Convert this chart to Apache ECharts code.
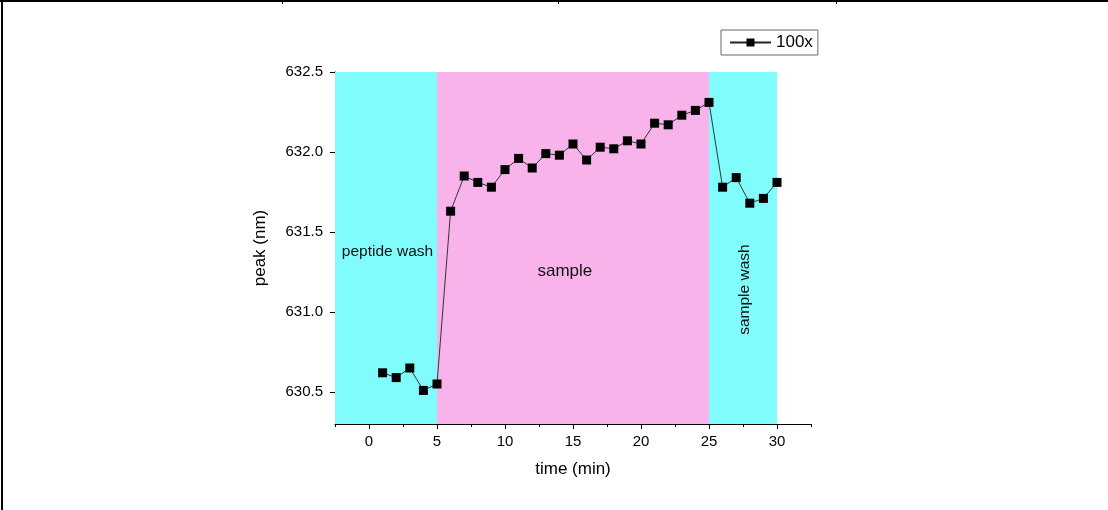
<!DOCTYPE html>
<html>
<head>
<meta charset="utf-8">
<script src="https://cdn.jsdelivr.net/npm/echarts@6/dist/echarts.min.js"></script>
<style>
html,body{margin:0;padding:0;background:#fff;}
#chart{width:1108px;height:510px;}
</style>
</head>
<body>
<div id="chart"></div>
<script>
// ---- data ----
const time = [1,2,3,4,5,6,7,8,9,10,11,12,13,14,15,16,17,18,19,20,21,22,23,24,25,26,27,28,29,30];
const peak = [630.62,630.59,630.65,630.51,630.55,631.63,631.85,631.81,631.78,631.89,631.96,631.90,631.99,631.98,632.05,631.95,632.03,632.02,632.07,632.05,632.18,632.17,632.23,632.26,632.31,631.78,631.84,631.68,631.71,631.81];
const seriesName = '100x';
const xTicks = [0,5,10,15,20,25,30];
const xMinorTicks = [-2.5,2.5,7.5,12.5,17.5,22.5,27.5,32.5];
const yTicks = [630.5,631.0,631.5,632.0,632.5];
const yMinorTicks = [630.75,631.25,631.75,632.25];
const regionStart = [-2.5, 5, 25];
const regionEnd = [5, 25, 30];
const regionLabels = ['peptide wash', 'sample', 'sample wash'];
const regionLabelX = [1.36, 14.4, 27.65];
const regionLabelY = [631.377, 631.256, 631.14];

// ---- style ----
const regionColors = ['#80FCFC', '#F8B4EA', '#80FCFC'];
const labelSizes = [15.5, 17, 15.5];
const labelRot = [0, 0, Math.PI / 2];
const FONT = '"Liberation Sans", Arial, sans-serif';

const chart = echarts.init(document.getElementById('chart'), null, {renderer: 'canvas'});

const areaData = regionStart.map((s, i) => [
  {xAxis: s, itemStyle: {color: regionColors[i], opacity: 1}},
  {xAxis: regionEnd[i]}
]);

const option = {
  backgroundColor: '#fff',
  animation: false,
  textStyle: {fontFamily: FONT, color: '#000'},
  grid: {left: 335, top: 72, right: 297, bottom: 86, containLabel: false},
  legend: {
    data: [seriesName],
    left: 721, top: 30,
    padding: [4, 5, 4, 8],
    borderColor: '#666', borderWidth: 1,
    itemWidth: 41, itemHeight: 10,
    textStyle: {fontSize: 17, color: '#000', fontFamily: FONT}
  },
  xAxis: [{
    type: 'value', min: -2.5, max: 32.5,
    name: 'time (min)', nameLocation: 'middle', nameGap: 37,
    nameTextStyle: {fontSize: 17, color: '#000', fontFamily: FONT},
    axisLine: {show: true, onZero: false, lineStyle: {color: '#000', width: 1}},
    axisTick: {show: true, customValues: xTicks, length: 5, inside: false, lineStyle: {color: '#000'}},
    axisLabel: {customValues: xTicks, fontSize: 15, color: '#000', margin: 10, fontFamily: FONT},
    splitLine: {show: false}
  }, {
    type: 'value', min: -2.5, max: 32.5, position: 'bottom',
    axisLine: {show: false},
    axisTick: {show: true, customValues: xMinorTicks, length: 3, inside: false, lineStyle: {color: '#000'}},
    axisLabel: {show: false},
    splitLine: {show: false}
  }],
  yAxis: [{
    type: 'value', min: 630.3, max: 632.5,
    name: 'peak (nm)', nameLocation: 'middle', nameGap: 66,
    nameTextStyle: {fontSize: 17, color: '#000', fontFamily: FONT},
    axisLine: {show: true, onZero: false, lineStyle: {color: '#000', width: 1}},
    axisTick: {show: true, customValues: yTicks, length: 5, inside: false, lineStyle: {color: '#000'}},
    axisLabel: {customValues: yTicks, fontSize: 15, color: '#000', margin: 12, fontFamily: FONT,
      formatter: v => Number(v).toFixed(1)},
    splitLine: {show: false}
  }, {
    type: 'value', min: 630.3, max: 632.5, position: 'left',
    axisLine: {show: false},
    axisTick: {show: true, customValues: yMinorTicks, length: 3, inside: false, lineStyle: {color: '#000'}},
    axisLabel: {show: false},
    splitLine: {show: false}
  }],
  series: [{
    type: 'line', name: '__regions', data: [], z: 1, silent: true,
    markArea: {silent: true, data: areaData, label: {show: false}}
  }, {
    type: 'line', name: seriesName, z: 5,
    data: time.map((t, i) => [t, peak[i]]),
    symbol: 'rect', symbolSize: 9, showSymbol: true,
    itemStyle: {color: '#000'},
    lineStyle: {color: '#222', width: 0.9}
  }]
};
chart.setOption(option);

// region labels positioned by data coordinates
const texts = regionLabels.map((t, i) => {
  const p = chart.convertToPixel({xAxisIndex: 0, yAxisIndex: 0}, [regionLabelX[i], regionLabelY[i]]);
  return {
    type: 'text', x: p[0], y: p[1], rotation: labelRot[i], z: 10,
    style: {text: t, fontSize: labelSizes[i], fontFamily: FONT, fill: '#111', align: 'center', verticalAlign: 'middle'}
  };
});
// page frame lines (table cell border)
const frame = [
  {type: 'rect', shape: {x: 0, y: 0, width: 1108, height: 2}, style: {fill: '#000'}},
  {type: 'rect', shape: {x: 1, y: 0, width: 2, height: 510}, style: {fill: '#000'}},
  {type: 'rect', shape: {x: 282, y: 0, width: 1, height: 4}, style: {fill: '#000'}},
  {type: 'rect', shape: {x: 558, y: 0, width: 1, height: 4}, style: {fill: '#000'}},
  {type: 'rect', shape: {x: 836, y: 0, width: 1, height: 4}, style: {fill: '#000'}}
];
chart.setOption({graphic: texts.concat(frame)});
</script>
</body>
</html>
